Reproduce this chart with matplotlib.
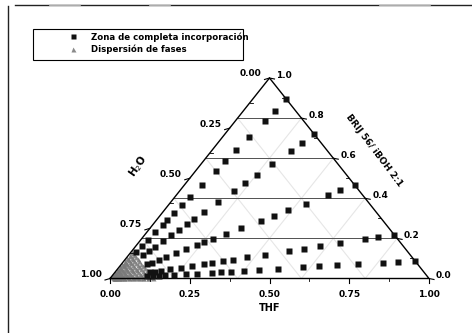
import matplotlib
matplotlib.use("Agg")
import matplotlib.pyplot as plt
from matplotlib.lines import Line2D
from matplotlib.patches import Rectangle

# BRIJ/(THF+BRIJ) ratio of each dilution line, and the loading (1 - H2O) of each sample
ray_ratio = [0.894, 0.719, 0.467, 0.218, 0.0875]
ray_load = [
    [1.0, 0.935, 0.88, 0.79, 0.715, 0.653, 0.599, 0.52, 0.455, 0.41, 0.365, 0.325, 0.30, 0.257, 0.217, 0.18, 0.15],
    [1.0, 0.94, 0.884, 0.795, 0.72, 0.66, 0.606, 0.528, 0.46, 0.41, 0.377, 0.336, 0.30, 0.26, 0.22, 0.19, 0.16],
    [1.0, 0.94, 0.89, 0.80, 0.73, 0.67, 0.619, 0.537, 0.476, 0.42, 0.386, 0.354, 0.31, 0.27, 0.23, 0.20, 0.17, 0.15],
    [1.0, 0.943, 0.896, 0.81, 0.739, 0.681, 0.63, 0.546, 0.483, 0.434, 0.397, 0.36, 0.33, 0.29, 0.25, 0.21, 0.18, 0.16, 0.14],
    [1.0, 0.945, 0.896, 0.813, 0.745, 0.685, 0.632, 0.551, 0.487, 0.44, 0.397, 0.364, 0.334, 0.285, 0.25,
     0.21, 0.18, 0.16, 0.14, 0.12],
]

# phase-dispersion samples close to the water corner
disp_ratio = [0.98, 0.93, 0.87, 0.8, 0.72, 0.64, 0.55, 0.47, 0.39, 0.3, 0.22, 0.15, 0.09, 0.04, 0.01]
disp_load = [0.015, 0.03, 0.045, 0.06, 0.075, 0.09, 0.105, 0.12, 0.135]

thf_ticks = [0.00, 0.25, 0.50, 0.75, 1.00]
h2o_ticks = [0.00, 0.25, 0.50, 0.75, 1.00]
brij_ticks = [0.0, 0.2, 0.4, 0.6, 0.8, 1.0]

FONT = dict(family="DejaVu Sans", weight="bold", size=6.5)


def tern(t, b):
    return t + b / 2.0, b


W, H = 472, 333
fig = plt.figure(figsize=(W / 100, H / 100), dpi=100)
ax = fig.add_axes([110 / W, (H - 278.5) / H, 319 / W, 200.5 / H])
ax.set_xlim(0, 1)
ax.set_ylim(0, 1)
ax.axis("off")
px, py = 1 / 319, 1 / 200.5  # one pixel in axes units

# horizontal BRIJ grid lines
for b in brij_ticks[1:-1]:
    ax.plot([b / 2, 1 - b / 2], [b, b], color="#505050", lw=0.7, zorder=1)

# faint lines parallel to the slanted sides
for v in [0.2, 0.4, 0.6, 0.8]:
    x0, y0 = tern(v, 0)
    x1, y1 = tern(v, 1 - v)
    ax.plot([x0, x1], [y0, y1], color="#e6e6e6", lw=0.8, zorder=0)
    x0, y0 = tern(1 - v, 0)
    x1, y1 = tern(0, 1 - v)
    ax.plot([x0, x1], [y0, y1], color="#e6e6e6", lw=0.8, zorder=0)

# triangle outline
ax.plot([0, 1, 0.5, 0], [0, 0, 1, 0], color="black", lw=1.0, zorder=3, clip_on=False)

# dispersion zone
for r in disp_ratio:
    xs, ys = zip(*[tern(l * (1 - r), l * r) for l in disp_load])
    ax.plot(xs, ys, ls="none", marker="^", ms=3.6, color="#7a7a7a", mec="none", alpha=0.85,
            zorder=2, clip_on=False)

# complete incorporation zone
for r, loads in zip(ray_ratio, ray_load):
    xs, ys = zip(*[tern(l * (1 - r), l * r) for l in loads])
    ax.plot(xs, ys, ls="none", marker="s", ms=3.8, color="#111111", mec="none", zorder=4, clip_on=False)

# bottom axis: THF
for t in thf_ticks:
    ax.plot([t, t], [0, -4 * py], color="black", lw=0.8, clip_on=False)
    ax.text(t, -16 * py, f"{t:.2f}", ha="center", va="center", **FONT)
for t in [0.125, 0.375, 0.625, 0.875]:
    ax.plot([t, t], [0, -2 * py], color="black", lw=0.6, clip_on=False)
ax.text(0.5, -29.5 * py, "THF", ha="center", va="center", family="DejaVu Sans", weight="bold", size=7)

# left axis: H2O (0 at the top)
for w in h2o_ticks:
    x, y = tern(0, 1 - w)
    ax.plot([x, x - 5 * px], [y, y - 1.5 * py], color="black", lw=0.8, clip_on=False)
    ax.text(x - 8 * px, y + 4 * py, f"{w:.2f}", ha="right", va="center", **FONT)
for w in [0.125, 0.375, 0.625, 0.875]:
    x, y = tern(0, 1 - w)
    ax.plot([x, x + 3 * px], [y, y], color="black", lw=0.6, clip_on=False)
ax.text((138 - 110) * px, (278.5 - 166) * py, "H$_2$O", rotation=55, ha="center", va="center",
        family="DejaVu Sans", weight="bold", size=7.5)

# right axis: BRIJ 56 / iBOH
for b in brij_ticks:
    x, y = tern(1 - b, b)
    ax.plot([x, x + 5 * px], [y, y - 1 * py], color="black", lw=0.8, clip_on=False)
    ax.text(x + 7 * px, y + 3 * py, f"{b:.1f}", ha="left", va="center", **FONT)
for b in [0.1, 0.3, 0.5, 0.7, 0.9]:
    x, y = tern(1 - b, b)
    ax.plot([x, x - 3 * px], [y, y], color="black", lw=0.6, clip_on=False)
ax.text((374 - 110) * px, (278.5 - 150) * py, "BRIJ 56/ iBOH 2:1", rotation=-53, ha="center", va="center",
        family="DejaVu Sans", weight="bold", size=6.6)

# legend
handles = [
    Line2D([], [], ls="none", marker="s", ms=3.6, color="#111111", mec="none"),
    Line2D([], [], ls="none", marker="^", ms=3.6, color="#8a8a8a", mec="none"),
]
fig.legend(handles, ["Zona de completa incorporación", "Dispersión de fases"],
           loc="upper left", bbox_to_anchor=(66 / W, 1 - 32 / H), frameon=False,
           borderpad=0, borderaxespad=0, handlelength=1.6, handletextpad=1.35,
           labelspacing=0.3, prop=dict(family="DejaVu Sans", weight="bold", size=6.2))
fig.patches.append(Rectangle((33 / W, 1 - 59.5 / H), 210 / W, 30.5 / H, transform=fig.transFigure,
                             fill=False, edgecolor="black", lw=0.8))

# page frame
fig.add_artist(Line2D([8 / W, 8 / W], [0, 1 - 6 / H], color="#222222", lw=1.0))
fig.add_artist(Line2D([15 / W, 1], [1 - 5 / H, 1 - 5 / H], color="#222222", lw=1.0))
for a, b in [(50, 80), (150, 170), (380, 430)]:
    fig.add_artist(Line2D([a / W, b / W], [1 - 5 / H, 1 - 5 / H], color="#c8c8c8", lw=1.2))

fig.savefig("out.png", dpi=100, facecolor="white")
